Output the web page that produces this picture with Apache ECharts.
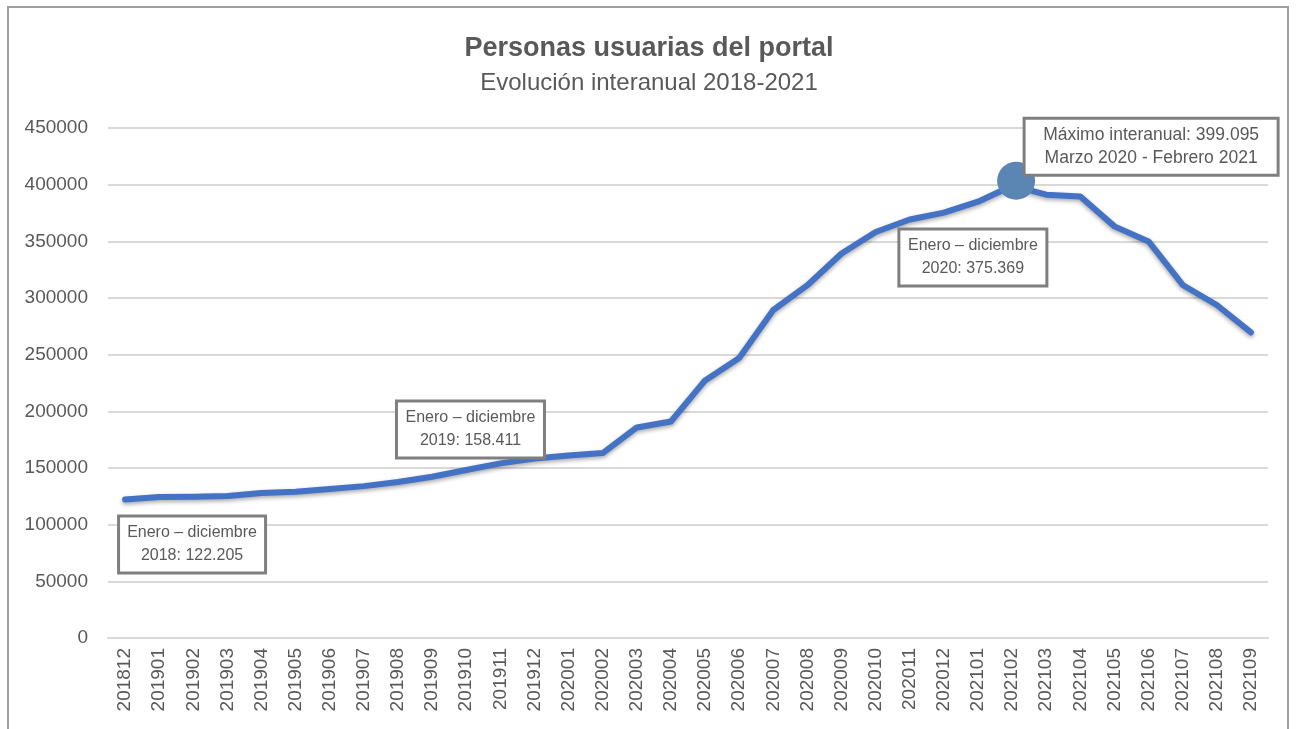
<!DOCTYPE html>
<html>
<head>
<meta charset="utf-8">
<script src="https://cdn.jsdelivr.net/npm/echarts@6/dist/echarts.min.js"></script>
<style>
html,body{margin:0;padding:0;background:#fff;}
#chart{width:1298px;height:729px;}
</style>
</head>
<body>
<div id="chart"></div>
<script>
const categories = ['201812','201901','201902','201903','201904','201905','201906','201907','201908','201909','201910','201911','201912','202001','202002','202003','202004','202005','202006','202007','202008','202009','202010','202011','202012','202101','202102','202103','202104','202105','202106','202107','202108','202109'];
const users = [122205,124500,124600,125200,128000,129100,131500,134000,137600,142300,148200,154100,158411,161000,163200,185800,191000,227300,247000,289400,311300,339300,358200,369300,375369,385000,399095,391200,389600,363200,349900,311500,293800,269600];
const yTicks = [0,50000,100000,150000,200000,250000,300000,350000,400000,450000];
const annotTexts = {
  0: ['Enero – diciembre','2018: 122.205'],
  12: ['Enero – diciembre','2019: 158.411'],
  24: ['Enero – diciembre','2020: 375.369'],
  26: ['Máximo interanual: 399.095','Marzo 2020 - Febrero 2021']
};
const peakIndex = 26;

const FONT = "'Liberation Sans', sans-serif";
const annotStyle = {
  0: {offset:[67,45], width:138, fontSize:16},
  12: {offset:[-64,-29], width:139, fontSize:16},
  24: {offset:[29,45], width:139, fontSize:16},
  26: {offset:[135,-34], width:245, fontSize:17.5}
};

const data = users.map((v,i)=>{
  const item = {value:v};
  if (annotTexts[i]) {
    const s = annotStyle[i];
    item.label = {
      show:true, position:'inside', offset:s.offset,
      formatter: annotTexts[i].join('\n'),
      color:'#595959', fontSize:s.fontSize, fontFamily:FONT, lineHeight:23,
      backgroundColor:'#fff', borderColor:'#7f7f7f', borderWidth:3,
      padding:[4,3,4,3], width:s.width, align:'center', verticalAlign:'middle'
    };
  }
  if (i === peakIndex) {
    item.symbol = 'circle';
    item.symbolSize = 38;
    item.symbolOffset = [4,-5];
    item.itemStyle = {color:'#5b86b4', borderWidth:0};
  }
  return item;
});

const chart = echarts.init(document.getElementById('chart'), null, {renderer:'canvas'});
chart.setOption({
  backgroundColor:'#fff',
  animation:false,
  title:{
    text:'Personas usuarias del portal',
    subtext:'Evolución interanual 2018-2021',
    left:'center', top:30, itemGap:9,
    textStyle:{fontSize:27, fontWeight:'bold', color:'#595959', fontFamily:FONT},
    subtextStyle:{fontSize:24, color:'#595959', fontFamily:FONT}
  },
  graphic:[{type:'rect', shape:{x:8,y:7,width:1280,height:730}, style:{fill:'none', stroke:'#a0a0a0', lineWidth:2}, silent:true}],
  grid:{left:108, right:30, top:128, bottom:91, containLabel:false},
  xAxis:{
    type:'category', data:categories, boundaryGap:true,
    axisLine:{show:true, lineStyle:{color:'#d9d9d9', width:2}},
    axisTick:{show:false},
    axisLabel:{rotate:90, color:'#595959', fontSize:19, fontFamily:FONT, margin:10, interval:0}
  },
  yAxis:{
    type:'value', min:yTicks[0], max:yTicks[yTicks.length-1], interval:yTicks[1]-yTicks[0],
    axisLine:{show:false}, axisTick:{show:false},
    splitLine:{lineStyle:{color:'#d9d9d9', width:2}},
    axisLabel:{color:'#595959', fontSize:19, fontFamily:FONT, margin:20, formatter:(v)=>String(v)}
  },
  series:[{
    type:'line', data:data, symbol:'circle', symbolSize:1, showSymbol:true, showAllSymbol:true, z:3,
    lineStyle:{color:'#4472c4', width:6, shadowColor:'rgba(0,0,0,0.35)', shadowBlur:4, shadowOffsetY:2, cap:'round', join:'round'},
    itemStyle:{color:'rgba(0,0,0,0)', borderWidth:0},
    emphasis:{disabled:true}
  }]
});
</script>
</body>
</html>
